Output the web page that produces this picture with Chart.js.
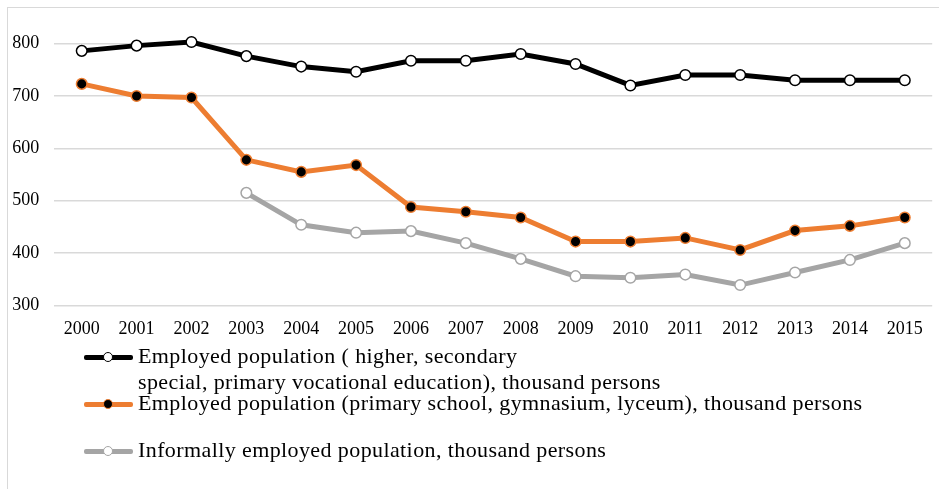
<!DOCTYPE html>
<html>
<head>
<meta charset="utf-8">
<script src="https://cdn.jsdelivr.net/npm/chart.js@4.4.1/dist/chart.umd.min.js"></script>
<style>
    html, body { margin: 0; padding: 0; background: #fff; overflow: hidden; }
    #wrap { position: relative; width: 939px; height: 489px; }
    #frame { position: absolute; left: 7px; top: 7px; width: 1000px; height: 1000px;
             border-left: 1.5px solid #d9d9d9; border-top: 1.5px solid #d9d9d9; }
    canvas { position: absolute; left: 0; top: 0; }
    #legend { position: absolute; left: 84px; top: 0; font-family: 'Liberation Serif', 'Times New Roman', serif;
              font-size: 22px; letter-spacing: 0.4px; color: #000; }
    .item { position: absolute; left: 0; white-space: nowrap; }
    .icon { position: absolute; left: 0; width: 49px; height: 5px; border-radius: 2px; }
    .dot { position: absolute; left: 19px; top: -3px; width: 8px; height: 8px; border-radius: 50%; border: 1.5px solid; }
    .text { position: absolute; left: 54px; line-height: 26px; }
</style>
</head>
<body>
<div id="wrap">
    <div id="frame"></div>
    <canvas id="chart" width="939" height="489"></canvas>
    <div id="legend"></div>
</div>
<script>
// --- Data ---
const years = ['2000', '2001', '2002', '2003', '2004', '2005', '2006', '2007',
               '2008', '2009', '2010', '2011', '2012', '2013', '2014', '2015'];
const higherEducation = [786, 796, 803, 776, 756, 746, 767, 767, 780, 761, 720, 740, 740, 730, 730, 730];
const schoolEducation = [723, 700, 697, 578, 555, 568, 488, 479, 468, 422, 422, 429, 406, 443, 452, 468];
const informalEmployment = [null, null, null, 515, 454, 439, 442, 419, 389, 356, 353, 359, 339, 363, 387, 419];
const yTicks = [300, 400, 500, 600, 700, 800];
const seriesNames = [
    ['Employed population ( higher, secondary', 'special, primary vocational education), thousand persons'],
    ['Employed population (primary school, gymnasium, lyceum), thousand persons'],
    ['Informally employed population, thousand persons']
];

// --- Styles ---
const FONT = "'Liberation Serif', 'Times New Roman', serif";
const styles = [
    { line: '#000000', fill: '#ffffff', ring: '#000000' },
    { line: '#ed7d31', fill: '#000000', ring: '#ed7d31' },
    { line: '#a5a5a5', fill: '#ffffff', ring: '#a5a5a5' }
];

function makeDataset(label, data, s) {
    return {
        label: label,
        data: data,
        borderColor: s.line,
        borderWidth: 5,
        pointRadius: 5.3,
        pointBorderWidth: 1.5,
        pointBackgroundColor: s.fill,
        pointBorderColor: s.ring,
        tension: 0,
        spanGaps: false
    };
}

const chart = new Chart(document.getElementById('chart').getContext('2d'), {
    type: 'line',
    data: {
        labels: years,
        datasets: [
            makeDataset(seriesNames[0].join(' '), higherEducation, styles[0]),
            makeDataset(seriesNames[1].join(' '), schoolEducation, styles[1]),
            makeDataset(seriesNames[2].join(' '), informalEmployment, styles[2])
        ]
    },
    options: {
        responsive: false,
        animation: false,
        layout: { padding: { top: 10, right: 0, left: 0, bottom: 150 } },
        plugins: { legend: { display: false }, tooltip: { enabled: false } },
        scales: {
            x: {
                offset: true,
                grid: { display: false, drawTicks: false },
                border: { display: false },
                ticks: { color: '#000', font: { family: FONT, size: 18 }, padding: 13, maxRotation: 0, autoSkip: false },
                afterFit: (axis) => { axis.height = 33.5; axis.paddingLeft = 0; axis.paddingRight = 0; }
            },
            y: {
                min: 300,
                max: 864,
                grid: { color: '#d9d9d9', lineWidth: 1.5, drawTicks: false },
                border: { display: false },
                ticks: { color: '#000', font: { family: FONT, size: 18 }, padding: 15 },
                afterBuildTicks: (axis) => { axis.ticks = yTicks.map(v => ({ value: v })); },
                afterFit: (axis) => { axis.width = 54.3; axis.paddingTop = 0; axis.paddingBottom = 0; }
            }
        }
    }
});

// --- HTML legend ---
const legendEl = document.getElementById('legend');
const legendRows = [357, 404, 451];
seriesNames.forEach((lines, i) => {
    const item = document.createElement('div');
    item.className = 'item';
    item.style.top = legendRows[i] + 'px';
    const icon = document.createElement('div');
    icon.className = 'icon';
    icon.style.top = '-2.5px';
    icon.style.background = styles[i].line;
    const dot = document.createElement('div');
    dot.className = 'dot';
    dot.style.background = styles[i].fill;
    dot.style.borderColor = styles[i].ring;
    icon.appendChild(dot);
    const text = document.createElement('div');
    text.className = 'text';
    text.style.top = '-14px';
    text.innerHTML = lines.join('<br>');
    item.appendChild(icon);
    item.appendChild(text);
    legendEl.appendChild(item);
});
</script>
</body>
</html>
